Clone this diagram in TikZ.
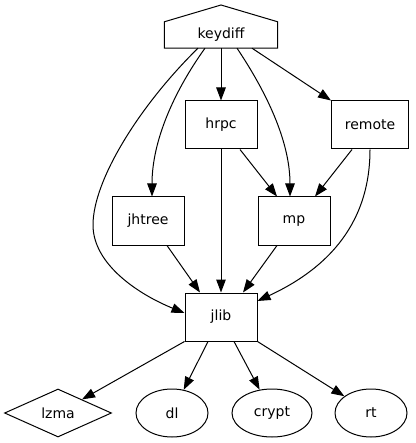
\documentclass[tikz,border=0pt]{standalone}
\usepackage{fontspec}
\setmainfont{DejaVu Sans}
\usetikzlibrary{arrows.meta,shapes.geometric}
\begin{document}
\begin{tikzpicture}[x=1pt,y=-1pt,
  every node/.style={font=\fontsize{14}{16}\selectfont, inner sep=0pt},
  box/.style={draw, line width=1pt, rectangle, minimum width=72pt, minimum height=48pt},
  oval/.style={draw, line width=1pt, ellipse, minimum width=72pt, minimum height=48pt},
  dia/.style={draw, line width=1pt, diamond, minimum width=107pt, minimum height=48pt},
  edge/.style={line width=1pt, -{Triangle[length=13pt,width=9.5pt]}}]
\useasboundingbox (0,0) rectangle (415,443);
% keydiff house
\node[rectangle, minimum width=113pt, minimum height=26pt] (keydiff) at (221,35) {keydiff};
\coordinate (peak) at (221,5);
\draw[line width=1pt] (keydiff.south west) -- (keydiff.north west) -- (peak) -- (keydiff.north east) -- (keydiff.south east) -- cycle;
\node[box] (hrpc) at (221,125) {hrpc};
\node[box, minimum width=77pt] (remote) at (370,125) {remote};
\node[box] (jhtree) at (148,221) {jhtree};
\node[box] (mp) at (294,221) {mp};
\node[box] (jlib) at (221,317) {jlib};
\node[dia] (lzma) at (58,413) {lzma};
\node[oval] (dl) at (172,413) {dl};
\node[oval, minimum width=80pt] (crypt) at (272,413) {crypt};
\node[oval] (rt) at (371,413) {rt};
% edges
\draw[edge] ([xshift=-23pt]keydiff.south) .. controls (140,105) and (93,180) .. (93,225) .. controls (93,265) and (140,295) .. ([yshift=4pt]jlib.west);
\draw[edge] ([xshift=-16pt]keydiff.south) .. controls (175,90) and (152,140) .. ([xshift=4pt]jhtree.north);
\draw[edge] (keydiff.south) -- (hrpc.north);
\draw[edge] ([xshift=16pt]keydiff.south) .. controls (265,90) and (290,140) .. ([xshift=-4pt]mp.north);
\draw[edge] ([xshift=31pt]keydiff.south) -- (remote.north west);
\draw[edge] ([xshift=19pt]hrpc.south) -- ([xshift=-17pt]mp.north);
\draw[edge] (hrpc.south) -- (jlib.north);
\draw[edge] ([xshift=-18pt]remote.south) -- ([xshift=21pt]mp.north);
\draw[edge] (remote.south) .. controls (370,230) and (320,272) .. ([yshift=16pt]jlib.east);
\draw[edge] ([xshift=19pt]jhtree.south) -- ([xshift=-21pt]jlib.north);
\draw[edge] ([xshift=-17pt]mp.south) -- ([xshift=22pt]jlib.north);
\draw[edge] (jlib.south west) -- (lzma);
\draw[edge] ([xshift=-13pt]jlib.south) -- (dl);
\draw[edge] ([xshift=13pt]jlib.south) -- (crypt);
\draw[edge] (jlib.south east) -- (rt);
\end{tikzpicture}
\end{document}
